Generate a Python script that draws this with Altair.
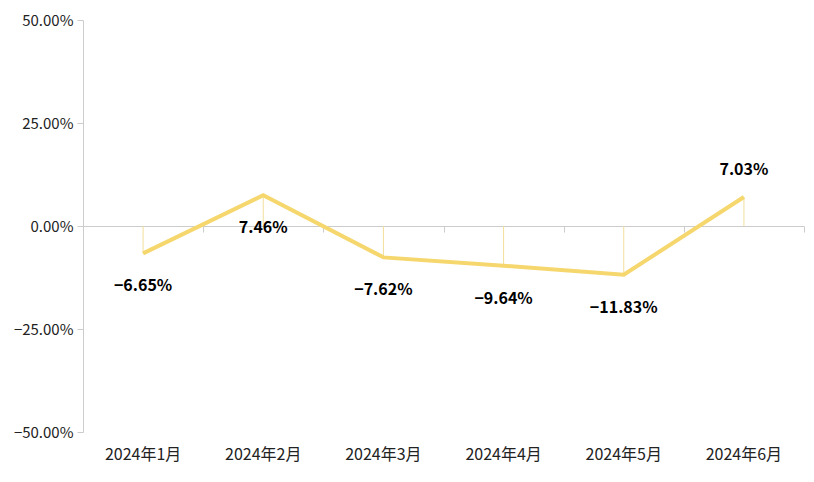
import altair as alt
import pandas as pd

months = ["2024年1月", "2024年2月", "2024年3月", "2024年4月", "2024年5月", "2024年6月"]
values = [-0.0665, 0.0746, -0.0762, -0.0964, -0.1183, 0.0703]
y_ticks = [-0.5, -0.25, 0, 0.25, 0.5]

df = pd.DataFrame({"month": months, "value": values})

FONT = "Noto Sans CJK SC"
LINE_COLOR = "#f5d76e"
DROP_COLOR = "#f1df9a"
AXIS_COLOR = "#cccccc"

x_scale = alt.Scale(type="band", paddingInner=0, paddingOuter=0)
y_scale = alt.Scale(domain=[-0.5, 0.5], nice=False, zero=False)

base = alt.Chart(df)

line = base.mark_line(color=LINE_COLOR, strokeWidth=4).encode(
    x=alt.X("month:N", sort=months, scale=x_scale,
            axis=alt.Axis(title=None, orient="bottom", domain=False, ticks=False,
                          labelAngle=0, labelFontSize=16, labelColor="#222",
                          labelPadding=14, labelFont=FONT)),
    y=alt.Y("value:Q", scale=y_scale,
            axis=alt.Axis(title=None, values=y_ticks, format=".2%", grid=False,
                          domainColor=AXIS_COLOR, tickColor=AXIS_COLOR, tickSize=6,
                          labelFontSize=15, labelColor="#222", labelPadding=4,
                          labelFont=FONT)),
)

drops = base.mark_rule(color=DROP_COLOR, strokeWidth=1).encode(
    x=alt.X("month:N", sort=months, scale=x_scale,
            axis=alt.Axis(title=None, orient="bottom", labels=False, domain=True,
                          ticks=True, tickBand="extent", offset=-206,
                          domainColor=AXIS_COLOR, tickColor=AXIS_COLOR, tickSize=6)),
    y=alt.Y("value:Q", scale=y_scale),
    y2=alt.datum(0),
)

labels_below = base.transform_filter(
    alt.datum.month != months[-1]
).mark_text(dy=33, fontSize=16, fontWeight="bold", color="#000", font=FONT).encode(
    x=alt.X("month:N", sort=months, scale=x_scale, axis=None),
    y=alt.Y("value:Q", scale=y_scale),
    text=alt.Text("value:Q", format=".2%"),
)

labels_above = base.transform_filter(
    alt.datum.month == months[-1]
).mark_text(dy=-27, fontSize=16, fontWeight="bold", color="#000", font=FONT).encode(
    x=alt.X("month:N", sort=months, scale=x_scale, axis=None),
    y=alt.Y("value:Q", scale=y_scale),
    text=alt.Text("value:Q", format=".2%"),
)

chart = alt.layer(drops, line, labels_below, labels_above).resolve_axis(
    x="independent"
).properties(
    width=721,
    height=412,
    autosize=alt.AutoSizeParams(type="none"),
    padding={"left": 83, "top": 20, "right": 10, "bottom": 50},
    background="white",
).configure(
    font=FONT,
    view=alt.ViewConfig(strokeWidth=0, stroke="transparent"),
)

chart.save("out.html", embed_options={"renderer": "svg", "actions": False})
